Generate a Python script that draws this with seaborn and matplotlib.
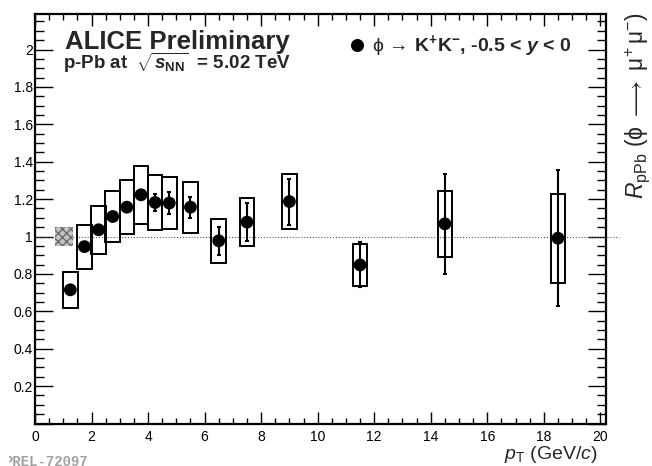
import matplotlib
matplotlib.use("Agg")
import matplotlib.pyplot as plt
from matplotlib.patches import Rectangle
from matplotlib.ticker import MultipleLocator, FuncFormatter
import seaborn as sns

# phi -> K+K- nuclear modification factor in p-Pb, -0.5 < y < 0
pt_centers = [1.25, 1.75, 2.25, 2.75, 3.25, 3.75, 4.25, 4.75, 5.5, 6.5, 7.5, 9.0, 11.5, 14.5, 18.5]
r_ppb = [0.715, 0.946, 1.036, 1.107, 1.157, 1.223, 1.182, 1.179, 1.157, 0.977, 1.077, 1.187, 0.848, 1.068, 0.991]
stat_err = [0.02, 0.02, 0.02, 0.02, 0.02, 0.025, 0.045, 0.06, 0.056, 0.076, 0.10, 0.123, 0.12, 0.266, 0.364]
sys_err = [0.095, 0.118, 0.128, 0.134, 0.145, 0.154, 0.145, 0.14, 0.137, 0.118, 0.13, 0.147, 0.114, 0.176, 0.237]
norm_unc = 0.052
x_ticks = [0, 2, 4, 6, 8, 10, 12, 14, 16, 18, 20]

BOX_HALF = 0.26

sns.set_theme(style="ticks")
plt.rcParams["font.family"] = ["Liberation Sans", "DejaVu Sans"]
plt.rcParams["mathtext.fontset"] = "custom"
plt.rcParams["mathtext.rm"] = "Liberation Sans"
plt.rcParams["mathtext.it"] = "Liberation Sans:italic"
plt.rcParams["mathtext.bf"] = "Liberation Sans:bold"
plt.rcParams["mathtext.bfit"] = "Liberation Sans:italic:bold"
plt.rcParams["hatch.linewidth"] = 1.0

W, H = 652, 466
fig = plt.figure(figsize=(W / 100, H / 100), dpi=100)
fig.patch.set_facecolor("white")
ax = fig.add_axes([35 / W, (H - 423.5) / H, 571 / W, 409.5 / H])
ax.set_facecolor("white")

# reference line at unity
ax.plot([0, 20.65], [1, 1], ls=(0, (1, 1.6)), color="#555555", lw=0.8,
        clip_on=False, zorder=1)

# global normalisation uncertainty
ax.add_patch(Rectangle((0.7, 1 - norm_unc), 0.63, 2 * norm_unc,
                       facecolor="#c4c4c4", edgecolor="#6a6a6a", lw=0,
                       hatch="xxxx", zorder=2))

# systematic uncertainty boxes
for x, y, e in zip(pt_centers, r_ppb, sys_err):
    ax.add_patch(Rectangle((x - BOX_HALF, y - e), 2 * BOX_HALF, 2 * e,
                           fill=False, edgecolor="black", lw=1.4, zorder=3))

# statistical errors
ax.errorbar(pt_centers, r_ppb, yerr=stat_err, fmt="none", ecolor="black",
            elinewidth=1.5, capsize=1.6, capthick=1.5, zorder=4)

sns.scatterplot(x=pt_centers, y=r_ppb, ax=ax, color="black", s=85,
                edgecolor="none", linewidth=0, zorder=5, legend=False)

ax.set_xlim(0, 20.2)
ax.set_ylim(0, 2.19)
ax.set_xticks(x_ticks)
ax.xaxis.set_minor_locator(MultipleLocator(0.5))
ax.yaxis.set_major_locator(MultipleLocator(0.2))
ax.yaxis.set_minor_locator(MultipleLocator(0.05))
ax.yaxis.set_major_formatter(FuncFormatter(lambda v, p: "" if abs(v) < 1e-9 else f"{v:g}"))
ax.xaxis.set_major_formatter(FuncFormatter(lambda v, p: f"{v:g}"))

for s in ax.spines.values():
    s.set_linewidth(1.6)
    s.set_color("black")
ax.tick_params(which="both", direction="in", top=True, right=True, color="black",
               labelcolor="black")
ax.tick_params(axis="x", which="major", length=8.4, width=1.0, labelsize=10, pad=4.5)
ax.tick_params(axis="x", which="minor", length=4.0, width=1.0)
ax.tick_params(axis="y", which="major", length=12.7, width=1.0, labelsize=10, pad=1.5)
ax.tick_params(axis="y", which="minor", length=6.5, width=1.0)

ax.set_xlabel(r"$p_{\rm T}$ (GeV/$c$)", loc="right", fontsize=14, va="baseline")
ax.xaxis.set_label_coords(0.986, -0.086)
ax.set_ylabel("")

ax.text(1.056, 1.005,
        r"$R_{\rm pPb}$ ($\mathrm{\phi}$ $\longrightarrow$ $\mathrm{\mu^{+}\,\mu^{-}}$)",
        transform=ax.transAxes, rotation=90, rotation_mode="anchor",
        ha="right", va="center", fontsize=16.5)

ax.text(0.0525, 0.9145, "ALICE Preliminary", transform=ax.transAxes,
        fontsize=18.5, fontweight="bold", va="baseline", ha="left")
ax.text(0.049, 0.866, r"p-Pb at  $\sqrt{\mathbfit{s}_{\mathbf{NN}}}$  = 5.02 TeV",
        transform=ax.transAxes, fontsize=13.5, fontweight="bold",
        va="baseline", ha="left")

# legend entry
ax.scatter([0.5634], [0.9243], s=70, color="black", transform=ax.transAxes,
           clip_on=False, zorder=6)
ax.text(0.5897, 0.9104,
        r"$\mathrm{\phi}\,\rightarrow\,\mathbf{K^{+}K^{-}}$, -0.5 < $\mathbfit{y}$ < 0",
        transform=ax.transAxes, fontsize=14, fontweight="bold",
        va="baseline", ha="left")

# watermark and canvas margin
fig.text(88 / W, 1 - 462 / H, "PREL-72097", ha="right", va="center",
         fontsize=10, family="Liberation Mono", fontweight="bold",
         color="#a0a0a0", zorder=6)
fig.add_artist(Rectangle((0, 0), 8.5 / W, 1, transform=fig.transFigure,
                         facecolor="white", edgecolor="none", zorder=7))

fig.savefig("out.png", dpi=100)
